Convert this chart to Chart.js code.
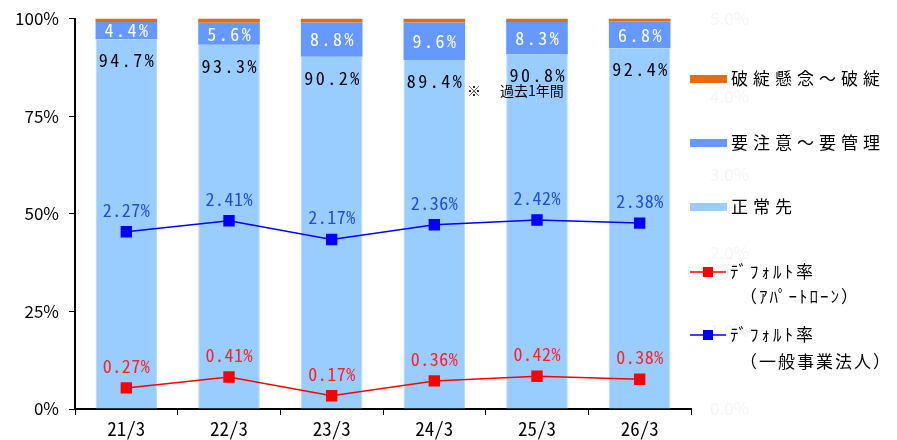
<!DOCTYPE html>
<html>
<head>
<meta charset="utf-8">
<script src="https://cdn.jsdelivr.net/npm/chart.js@4/dist/chart.umd.min.js"></script>
<style>
  html, body { margin: 0; padding: 0; background: #fff; }
  #wrap { width: 897px; height: 440px; }
</style>
</head>
<body>
<div id="wrap"><canvas id="c" width="897" height="440"></canvas></div>
<script>
// Fiscal year-ends (year/month)
const categories = ['21/3', '22/3', '23/3', '24/3', '25/3', '26/3'];
// Borrower classification shares (%)
const normalShare = [94.7, 93.3, 90.2, 89.4, 90.8, 92.4];     // 正常先
const watchShare = [4.4, 5.6, 8.8, 9.6, 8.3, 6.8];            // 要注意～要管理
const bankruptShare = [0.9, 1.1, 1.0, 1.0, 0.9, 0.8];         // 破綻懸念～破綻
// Default rates over the past year (%)
const defaultApartment = [0.27, 0.41, 0.17, 0.36, 0.42, 0.38];
const defaultCorporate = [2.27, 2.41, 2.17, 2.36, 2.42, 2.38];
// Axis ticks
const shareTicks = [0, 25, 50, 75, 100];
const rateTicks = [0, 1, 2, 3, 4, 5];

const FONT = '"Noto Sans CJK JP", "Noto Sans", sans-serif';
const MONO = '"Noto Sans Mono CJK JP", "DejaVu Sans Mono", monospace';
const C_ORANGE = '#E46C0A';
const C_MID = '#6699FF';
const C_LIGHT = '#99CCFF';
const C_RED = '#FF0000';
const C_BLUE = '#0000FF';

const legendItems = [
  { kind: 'box', color: C_ORANGE, lines: ['破綻懸念～破綻'], y: 79 },
  { kind: 'box', color: C_MID, lines: ['要注意～要管理'], y: 143 },
  { kind: 'box', color: C_LIGHT, lines: ['正常先'], y: 207 },
  { kind: 'line', color: C_RED, lines: ['ﾃﾞﾌｫﾙﾄ率', '（ｱﾊﾟｰﾄﾛｰﾝ）'], y: 272, gap: 25 },
  { kind: 'line', color: C_BLUE, lines: ['ﾃﾞﾌｫﾙﾄ率', '（一般事業法人）'], y: 335, gap: 27 }
];

const valueLabels = {
  id: 'valueLabels',
  afterDatasetsDraw(chart) {
    const ctx = chart.ctx;
    ctx.save();
    ctx.textAlign = 'left';
    ctx.textBaseline = 'middle';
    chart.data.datasets.forEach((ds, di) => {
      const meta = chart.getDatasetMeta(di);
      if (!ds.labelMode) return;
      meta.data.forEach((el, i) => {
        const v = ds.data[i];
        let y, text, color, spacing;
        if (ds.labelMode === 'barTop') {
          y = el.y + 21; text = v.toFixed(1) + '%'; color = '#000'; spacing = 2.5;
        } else if (ds.labelMode === 'barMid') {
          y = (el.y + el.base) / 2; text = v.toFixed(1) + '%'; color = '#fff'; spacing = 2.5;
        } else {
          y = el.y - 22; text = v.toFixed(2) + '%'; color = ds.labelColor; spacing = 0.5;
        }
        ctx.font = '18px ' + MONO;
        ctx.letterSpacing = spacing + 'px';
        const w = ctx.measureText(text).width - spacing;
        ctx.fillStyle = color;
        ctx.fillText(text, el.x - w / 2, y);
      });
    });
    ctx.restore();
  }
};

const sideLegend = {
  id: 'sideLegend',
  afterDraw(chart) {
    const ctx = chart.ctx;
    ctx.save();
    ctx.textBaseline = 'middle';
    ctx.textAlign = 'left';
    // faint secondary-axis labels for the default rate scale
    const y1 = chart.scales.y1;
    ctx.font = '17px ' + FONT;
    ctx.fillStyle = '#F5F5F5';
    rateTicks.forEach(v => {
      ctx.fillText(v.toFixed(1) + '%', 710, y1.getPixelForValue(v));
    });
    legendItems.forEach(item => {
      if (item.kind === 'box') {
        ctx.fillStyle = item.color;
        ctx.fillRect(690, item.y - 4, 37, 8);
        ctx.fillStyle = '#000';
        ctx.font = '17px ' + FONT;
        ctx.letterSpacing = '5px';
        ctx.fillText(item.lines[0], 731, item.y);
      } else {
        ctx.strokeStyle = item.color;
        ctx.lineWidth = 1.5;
        ctx.beginPath();
        ctx.moveTo(690, item.y);
        ctx.lineTo(726, item.y);
        ctx.stroke();
        ctx.fillStyle = item.color;
        ctx.fillRect(703, item.y - 5, 10, 10);
        ctx.fillStyle = '#000';
        ctx.font = '17px ' + FONT;
        ctx.letterSpacing = '3px';
        ctx.fillText(item.lines[0], 730, item.y);
        ctx.letterSpacing = '2px';
        ctx.fillText(item.lines[1], 740, item.y + item.gap);
      }
    });
    // footnote
    ctx.letterSpacing = '0px';
    ctx.font = '14px ' + FONT;
    ctx.fillStyle = '#000';
    ctx.fillText('※', 467, 91);
    ctx.fillText('過去1年間', 500, 91);
    ctx.restore();
  }
};

new Chart(document.getElementById('c'), {
  data: {
    labels: categories,
    datasets: [
      { type: 'line', label: 'ﾃﾞﾌｫﾙﾄ率（ｱﾊﾟｰﾄﾛｰﾝ）', data: defaultApartment, yAxisID: 'y1',
        borderColor: C_RED, backgroundColor: C_RED, borderWidth: 1.5,
        pointStyle: 'rect', pointRadius: 7, pointHoverRadius: 7, order: 0,
        labelMode: 'line', labelColor: '#FF2020' },
      { type: 'line', label: 'ﾃﾞﾌｫﾙﾄ率（一般事業法人）', data: defaultCorporate, yAxisID: 'y1',
        borderColor: C_BLUE, backgroundColor: C_BLUE, borderWidth: 1.5,
        pointStyle: 'rect', pointRadius: 7, pointHoverRadius: 7, order: 0,
        labelMode: 'line', labelColor: '#1F4FD8' },
      { type: 'bar', label: '正常先', data: normalShare, backgroundColor: C_LIGHT,
        borderColor: '#B4DCF4', borderWidth: { left: 1, right: 1, top: 0, bottom: 0 },
        barPercentage: 0.6, categoryPercentage: 1, order: 1, labelMode: 'barTop' },
      { type: 'bar', label: '要注意～要管理', data: watchShare, backgroundColor: C_MID,
        borderWidth: 0, barPercentage: 0.6, categoryPercentage: 1, order: 1, labelMode: 'barMid' },
      { type: 'bar', label: '破綻懸念～破綻', data: bankruptShare, backgroundColor: C_ORANGE,
        borderWidth: 0, barPercentage: 0.6, categoryPercentage: 1, order: 1 }
    ]
  },
  options: {
    responsive: false,
    animation: false,
    layout: { padding: 0 },
    plugins: { legend: { display: false }, tooltip: { enabled: false } },
    scales: {
      x: {
        stacked: true,
        grid: { drawOnChartArea: false, drawTicks: true, tickLength: 6, color: '#000', offset: true },
        border: { color: '#000', width: 2 },
        ticks: { color: '#000', font: { family: MONO, size: 19 }, padding: 2 },
        afterFit(s) { s.height = 31; }
      },
      y: {
        stacked: true, min: 0, max: 100,
        afterBuildTicks(s) { s.ticks = shareTicks.map(v => ({ value: v })); },
        grid: { drawOnChartArea: false, drawTicks: true, tickLength: 6, color: '#000' },
        border: { color: '#000', width: 2 },
        ticks: { color: '#000', font: { family: FONT, size: 17, lineHeight: 1.0 }, padding: 10,
                 callback: v => v + '%' },
        afterFit(s) { s.width = 75; }
      },
      y1: {
        position: 'right', stacked: false, min: 0, max: 5,
        grid: { display: false },
        border: { display: false },
        ticks: { display: false },
        afterFit(s) { s.width = 206; }
      }
    }
  },
  plugins: [valueLabels, sideLegend]
});
</script>
</body>
</html>
